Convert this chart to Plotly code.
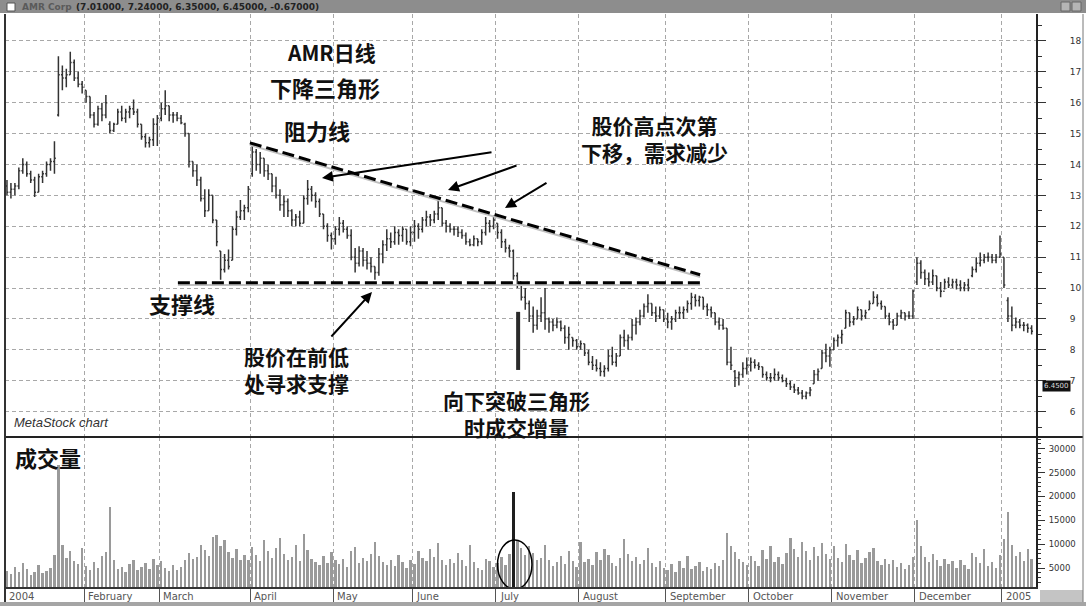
import plotly.graph_objects as go

# ---------------- data ----------------
month_names = ["2004", "February", "March", "April", "May", "June", "July",
               "August", "September", "October", "November", "December", "2005"]
month_start = [0, 20, 39, 62, 83, 103, 124, 145, 167, 188, 209, 230, 252]

high = [13.5, 13.4, 13.4, 13.9, 14.2, 14.1, 13.8, 13.6, 13.7, 13.8, 14.1, 14.2, 14.75, 17.5, 17.2, 17.1, 17.65, 17.4, 17.0, 16.7,
        16.4, 16.2, 15.7, 15.9, 16.0, 16.25, 15.4, 15.35, 15.8, 15.9, 15.8, 15.9, 16.1, 15.8, 15.3, 15.0, 14.9, 15.5, 15.6,
        16.0, 16.4, 15.9, 15.7, 15.7, 15.6, 15.35, 15.0, 14.1, 14.0, 13.6, 13.2, 13.2, 13.0, 12.2, 11.2, 11.1, 11.25, 12.0, 12.5, 12.85, 12.7, 13.3,
        14.65, 14.5, 14.4, 14.2, 14.0, 13.7, 13.6, 13.2, 13.0, 12.9, 12.55, 12.4, 12.5, 13.0, 13.5, 13.3, 13.1, 12.9, 12.4, 12.1, 11.8,
        12.0, 12.3, 12.2, 12.0, 11.9, 11.3, 11.35, 11.3, 11.2, 11.0, 10.7, 11.3, 11.55, 11.9, 11.8, 12.0, 11.9, 12.0, 11.9, 12.0,
        12.2, 12.1, 12.3, 12.5, 12.4, 12.5, 12.95, 12.6, 12.2, 12.1, 12.0, 12.0, 11.9, 11.8, 11.6, 11.7, 11.6, 11.9, 12.3, 12.2, 12.35,
        12.1, 11.9, 11.6, 11.4, 11.25, 10.5, 10.2, 10.0, 9.6, 9.4, 9.3, 9.7, 10.0, 9.05, 9.0, 9.05, 8.95, 8.8, 8.75, 8.4, 8.35,
        8.3, 8.2, 8.0, 7.8, 7.7, 7.6, 7.5, 8.0, 8.1, 7.9, 8.5, 8.65, 8.5, 9.0, 9.05, 9.3, 9.5, 9.8, 9.5, 9.4, 9.4, 9.3,
        9.2, 9.1, 9.3, 9.4, 9.4, 9.6, 9.85, 9.8, 9.75, 9.7, 9.5, 9.4, 9.2, 9.05, 9.0, 8.7, 8.1, 7.35, 7.3, 7.6, 7.75,
        7.75, 7.7, 7.6, 7.45, 7.3, 7.25, 7.4, 7.3, 7.2, 7.1, 7.0, 6.9, 6.8, 6.7, 6.65, 6.8, 7.35, 7.4, 8.0, 8.2, 8.1,
        8.4, 8.5, 8.65, 9.3, 9.2, 9.1, 9.4, 9.3, 9.3, 9.6, 9.9, 9.8, 9.6, 9.4, 9.2, 9.0, 9.2, 9.3, 9.2, 9.25, 9.95,
        11.0, 10.9, 10.6, 10.5, 10.6, 10.4, 10.2, 10.3, 10.35, 10.3, 10.3, 10.25, 10.2, 10.3, 10.7, 11.0, 11.15, 11.1, 11.15, 11.1, 11.1, 11.7,
        11.0, 9.7, 9.4, 9.05, 9.0, 8.9, 8.85, 8.8]

low = [13.0, 12.9, 13.0, 13.2, 13.7, 13.6, 13.4, 12.95, 13.1, 13.4, 13.6, 13.8, 13.7, 15.55, 16.4, 16.5, 16.9, 16.7, 16.5, 16.3,
       16.0, 15.5, 15.2, 15.25, 15.4, 15.5, 15.0, 15.05, 15.3, 15.4, 15.35, 15.5, 15.6, 15.2, 14.8, 14.55, 14.55, 14.6, 14.6,
       15.4, 15.6, 15.4, 15.35, 15.4, 15.3, 14.9, 13.9, 13.6, 13.3, 12.8, 12.3, 12.5, 12.1, 11.35, 10.27, 10.5, 10.6, 10.9, 11.7, 12.2, 12.2, 12.45,
       13.6, 13.8, 13.7, 13.6, 13.5, 13.1, 12.9, 12.5, 12.3, 12.3, 12.0, 12.0, 12.0, 12.1, 12.7, 12.8, 12.6, 12.3, 11.9, 11.5, 11.25,
       11.4, 11.7, 11.8, 11.6, 10.9, 10.5, 10.7, 10.7, 10.6, 10.5, 10.27, 10.4, 10.8, 11.2, 11.3, 11.4, 11.4, 11.5, 11.4, 11.35,
       11.5, 11.6, 11.8, 12.0, 12.0, 12.1, 12.2, 12.0, 11.8, 11.8, 11.7, 11.65, 11.6, 11.4, 11.35, 11.35, 11.35, 11.4, 11.7, 11.8, 11.9,
       11.6, 11.3, 11.15, 11.0, 10.27, 10.0, 9.6, 9.3, 8.9, 8.55, 8.65, 8.9, 8.65, 8.55, 8.6, 8.7, 8.6, 8.2, 8.0, 8.1, 8.0,
       8.0, 7.8, 7.5, 7.35, 7.3, 7.15, 7.13, 7.3, 7.5, 7.45, 7.8, 8.1, 8.0, 8.3, 8.5, 8.8, 9.05, 9.2, 9.1, 8.9, 9.0, 8.9,
       8.7, 8.65, 8.9, 9.0, 9.0, 9.2, 9.3, 9.4, 9.4, 9.3, 9.1, 9.05, 8.8, 8.65, 8.65, 7.5, 7.35, 6.8, 6.85, 7.1, 7.2,
       7.3, 7.4, 7.35, 7.1, 7.0, 6.95, 7.0, 7.0, 6.95, 6.8, 6.7, 6.6, 6.55, 6.4, 6.4, 6.5, 6.9, 7.0, 7.4, 7.6, 7.45,
       8.0, 8.1, 8.2, 8.7, 8.75, 8.8, 9.0, 8.95, 9.0, 9.3, 9.5, 9.4, 9.3, 9.0, 8.8, 8.65, 8.8, 9.0, 8.95, 9.0, 9.0,
       10.1, 10.3, 10.1, 10.05, 10.1, 9.9, 9.7, 9.95, 10.0, 10.0, 9.95, 9.9, 9.9, 9.9, 10.35, 10.5, 10.7, 10.8, 10.85, 10.8, 10.8, 11.0,
       10.0, 8.9, 8.6, 8.7, 8.7, 8.6, 8.55, 8.5]

open_ = [13.3, 13.1, 13.2, 13.3, 13.8, 14.0, 13.7, 13.5, 13.1, 13.6, 13.7, 14.0, 14.1, 15.6, 16.9, 16.8, 16.9, 17.3, 16.8, 16.6,
         16.4, 16.2, 15.6, 15.3, 15.8, 15.6, 15.3, 15.1, 15.3, 15.7, 15.5, 15.7, 15.8, 15.7, 15.3, 14.9, 14.7, 14.8, 15.3,
         15.5, 15.8, 15.9, 15.6, 15.6, 15.5, 15.3, 15.0, 14.1, 13.8, 13.5, 12.9, 12.5, 13.0, 12.2, 11.2, 10.6, 10.9, 10.9, 11.9, 12.3, 12.5, 12.6,
         13.7, 14.4, 14.0, 14.2, 13.8, 13.7, 13.3, 13.0, 12.7, 12.8, 12.5, 12.2, 12.3, 12.1, 12.9, 13.2, 13.0, 12.8, 12.4, 12.0, 11.7,
         11.6, 11.9, 12.1, 11.9, 11.7, 11.0, 10.8, 11.2, 10.9, 10.8, 10.7, 10.5, 11.1, 11.4, 11.6, 11.5, 11.8, 11.7, 11.9, 11.5,
         11.8, 12.0, 11.9, 12.2, 12.3, 12.2, 12.4, 12.6, 12.1, 12.0, 11.9, 11.9, 11.8, 11.7, 11.5, 11.4, 11.6, 11.5, 11.8, 12.1, 12.0,
         12.1, 11.8, 11.5, 11.3, 11.2, 10.4, 10.2, 9.7, 9.5, 9.1, 8.8, 9.1, 9.2, 9.0, 8.9, 8.8, 8.9, 8.7, 8.4, 8.4, 8.3,
         8.1, 8.2, 7.9, 7.6, 7.5, 7.4, 7.3, 7.4, 7.8, 7.6, 7.8, 8.4, 8.3, 8.4, 8.8, 8.9, 9.1, 9.4, 9.5, 9.2, 9.1, 9.3,
         9.0, 8.9, 9.0, 9.2, 9.2, 9.3, 9.5, 9.7, 9.6, 9.7, 9.4, 9.3, 9.2, 8.9, 8.8, 8.7, 7.6, 7.3, 7.1, 7.2, 7.4,
         7.5, 7.6, 7.5, 7.45, 7.2, 7.1, 7.1, 7.2, 7.1, 7.0, 6.9, 6.8, 6.7, 6.6, 6.5, 6.6, 6.9, 7.2, 7.4, 7.9, 7.8,
         8.0, 8.3, 8.4, 8.7, 9.2, 8.9, 9.0, 9.3, 9.1, 9.3, 9.5, 9.7, 9.5, 9.4, 9.1, 8.9, 8.8, 9.1, 9.2, 9.1, 9.1,
         10.2, 10.8, 10.5, 10.3, 10.2, 10.4, 10.0, 9.9, 10.2, 10.1, 10.2, 10.1, 10.0, 10.1, 10.4, 10.6, 10.8, 10.9, 11.0, 11.0, 10.9, 11.0,
         11.0, 9.6, 9.1, 8.8, 8.9, 8.8, 8.8, 8.7]

close = [13.1, 13.2, 13.3, 13.8, 14.0, 13.7, 13.5, 13.1, 13.6, 13.7, 14.0, 14.1, 14.2, 16.9, 16.8, 16.9, 17.3, 16.8, 16.6, 16.5,
         16.2, 15.6, 15.3, 15.8, 15.6, 16.0, 15.1, 15.3, 15.7, 15.5, 15.7, 15.8, 15.7, 15.3, 14.9, 14.7, 14.8, 15.3, 15.5,
         15.8, 15.9, 15.6, 15.6, 15.5, 15.35, 15.0, 14.1, 13.8, 13.5, 12.9, 12.5, 13.0, 12.2, 11.5, 10.6, 10.9, 10.7, 11.9, 12.3, 12.5, 12.6, 13.2,
         14.4, 14.0, 14.2, 13.8, 13.7, 13.3, 13.0, 12.7, 12.8, 12.5, 12.2, 12.3, 12.1, 12.9, 13.2, 13.0, 12.8, 12.4, 12.0, 11.7, 11.6,
         11.9, 12.1, 11.9, 11.7, 11.0, 10.8, 11.2, 10.9, 10.8, 10.7, 10.5, 11.1, 11.4, 11.6, 11.5, 11.8, 11.7, 11.9, 11.5, 11.8,
         12.0, 11.9, 12.2, 12.3, 12.2, 12.4, 12.6, 12.1, 12.0, 11.9, 11.9, 11.8, 11.7, 11.5, 11.4, 11.6, 11.5, 11.8, 12.1, 12.0, 12.2,
         11.8, 11.5, 11.3, 11.2, 10.4, 10.2, 9.7, 9.5, 9.1, 8.8, 9.1, 9.2, 9.0, 8.9, 8.8, 8.9, 8.7, 8.4, 8.5, 8.3, 8.1,
         8.2, 7.9, 7.6, 7.5, 7.4, 7.3, 7.4, 7.8, 7.6, 7.8, 8.4, 8.3, 8.4, 8.8, 8.9, 9.1, 9.4, 9.5, 9.2, 9.1, 9.3, 9.0,
         8.9, 9.0, 9.2, 9.2, 9.3, 9.5, 9.7, 9.6, 9.7, 9.4, 9.3, 9.2, 8.9, 8.8, 8.7, 7.6, 7.5, 7.1, 7.2, 7.4, 7.5,
         7.6, 7.5, 7.45, 7.2, 7.1, 7.1, 7.2, 7.1, 7.0, 6.9, 6.8, 6.7, 6.6, 6.5, 6.6, 6.7, 7.2, 7.3, 7.9, 7.8, 8.0,
         8.3, 8.4, 8.5, 9.2, 8.9, 9.0, 9.3, 9.1, 9.2, 9.5, 9.7, 9.5, 9.4, 9.1, 8.9, 8.8, 9.1, 9.2, 9.1, 9.1, 9.9,
         10.8, 10.5, 10.3, 10.2, 10.4, 10.0, 9.9, 10.2, 10.1, 10.2, 10.1, 10.0, 10.1, 10.0, 10.6, 10.8, 10.9, 11.0, 11.0, 10.9, 11.0, 11.1,
         10.1, 9.1, 8.8, 8.9, 8.8, 8.8, 8.7, 8.6]

volume = [4500, 3800, 5200, 4200, 6000, 4800, 3600, 4100, 5600, 3900, 4400, 5000, 7800, 26500, 9800, 7200, 8600, 6400, 5800, 9200,
          5400, 4600, 6200, 5000, 7600, 8400, 17800, 6800, 4900, 5300, 4200, 5800, 6600, 4700, 5200, 6100, 4800, 7000, 5600,
          6400, 5000, 4300, 5600, 4600, 5200, 6800, 8200, 6900, 7400, 9800, 8800, 7600, 11500, 12000, 9600, 10800, 8400, 7200, 9000, 6800, 7700, 6600,
          9400, 7800, 6400, 10800, 8600, 7200, 9200, 11200, 8000, 6600, 7400, 9800, 6400, 12200, 8800, 7000, 6200, 5600, 7600, 6000, 8400,
          6800, 5800, 7000, 5200, 8600, 9400, 6000, 7200, 6400, 8000, 10400, 7600, 6200, 5600, 6800, 5400, 7800, 6200, 5000, 6600,
          5800, 8600, 7200, 6400, 9000, 7400, 10200, 6800, 5600, 7000, 6000, 8200, 6600, 5400, 9800, 6200, 5000, 4600, 7000, 6400, 5200,
          6000, 7400, 5600, 8000, 21000, 10800, 9200, 7800, 9600, 8200, 6600, 7200, 9800, 6800, 5400, 6200, 7600, 5800, 8600, 6400, 5200,
          10400, 6200, 7000, 5600, 8400, 6600, 9000, 7800, 6000, 5400, 7200, 11000, 8000, 6400, 7400, 5800, 6800, 9200, 6000, 5200, 6400, 5000,
          4600, 5800, 4200, 6400, 5000, 7600, 4800, 5400, 6200, 4400, 5200, 4800, 6000, 5400, 6800, 12400, 9600, 8400, 7000, 6200, 5600,
          7600, 6400, 5400, 8800, 7000, 9600, 6200, 7400, 5800, 8200, 11200, 9000, 7400, 10400, 8600, 6800, 9400, 7600, 10200, 8000, 7000,
          9600, 7200, 6200, 10000, 7800, 6600, 8800, 6000, 7200, 8400, 9200, 6400, 5600, 7000, 5800, 6600, 5200, 6000, 4800, 5600, 7400,
          15000, 9600, 7400, 6200, 8000, 6600, 5400, 7000, 5800, 6400, 5000, 6800, 5600, 4800, 8200, 7400, 6000, 9000, 5400, 6200, 5000, 7800,
          11000, 16800, 9800, 7600, 8400, 6400, 9000, 7000]

price_ticks = [6, 7, 8, 9, 10, 11, 12, 13, 14, 15, 16, 17, 18]
volume_ticks = [5000, 10000, 15000, 20000, 25000, 30000]

# annotation guide lines (day index, price)
resistance = [(61.4, 14.7), (175.2, 10.43)]
support = [(43.2, 10.17), (175.2, 10.17)]
breakout_day = 128

# ---------------- layout geometry ----------------
W, H = 1086, 606
ML, MR, MT, MB = 5, 50, 14, 19
PW = W - ML - MR
PH = H - MT - MB
split = 150 / PH


def px(x):
    return (x - ML) / PW


def py(y):
    return (H - MB - y) / PH


n = len(close)
idx = list(range(n))
bounds = [s - 0.5 for s in month_start]
grid_col = "#a8a8a8"
bar_col = "#333333"

fig = go.Figure()
fig.add_trace(go.Ohlc(
    x=idx, open=open_, high=high, low=low, close=close,
    increasing=dict(line=dict(color=bar_col, width=1.5)),
    decreasing=dict(line=dict(color=bar_col, width=1.5)),
    tickwidth=0.35, xaxis="x", yaxis="y", hoverinfo="skip", showlegend=False))

vol_colors = ["#1e1e1e" if i == breakout_day else "#9a9a9a" for i in idx]
fig.add_trace(go.Bar(
    x=idx, y=volume, marker=dict(color=vol_colors, line=dict(width=0)),
    width=0.6, xaxis="x2", yaxis="y2", hoverinfo="skip", showlegend=False))

xr = [-0.5, 260.1]
fig.update_layout(
    width=W, height=H,
    margin=dict(l=ML, r=MR, t=MT, b=MB),
    paper_bgcolor="white", plot_bgcolor="white",
    bargap=0,
    xaxis=dict(domain=[0, 1], anchor="y", range=xr, tickvals=bounds,
               showticklabels=False, ticks="", showgrid=True,
               gridcolor=grid_col, griddash="4px,3px", gridwidth=1,
               zeroline=False, showline=False,
               rangeslider=dict(visible=False)),
    xaxis2=dict(domain=[0, 1], anchor="y2", range=xr, matches="x",
                tickvals=bounds, showticklabels=False, ticks="outside",
                ticklen=15, tickcolor="#555", tickwidth=1,
                showgrid=True, gridcolor=grid_col, griddash="4px,3px",
                zeroline=False, showline=True, linecolor="#333", linewidth=1.5),
    yaxis=dict(domain=[split, 1], anchor="x", side="right",
               range=[5.18, 18.87], tickvals=price_ticks,
               ticks="outside", ticklen=8, tickcolor="#333",
               ticklabelposition="outside", ticklabelstandoff=22,
               minor=dict(dtick=0.5, ticks="outside", ticklen=4, tickcolor="#333"),
               showgrid=True, gridcolor=grid_col, griddash="4px,3px",
               zeroline=False, showline=True, linecolor="#222", linewidth=2,
               tickfont=dict(family="DejaVu Sans", size=9, color="#333")),
    yaxis2=dict(domain=[0, split], anchor="x2", side="right",
                range=[1050, 32430], tickvals=volume_ticks, tickformat="d",
                ticks="outside", ticklen=7, tickcolor="#333",
                minor=dict(dtick=1000, ticks="outside", ticklen=3, tickcolor="#333"),
                showgrid=False, zeroline=False, showline=True,
                linecolor="#222", linewidth=2, ticklabelstandoff=2,
                tickfont=dict(family="DejaVu Sans", size=8.5, color="#333")),
)

shapes = []
# header bar
shapes.append(dict(type="rect", xref="paper", yref="paper", x0=px(0), x1=px(W),
                   y0=py(13), y1=py(0), fillcolor="#8d8d8d", line=dict(width=0), layer="below"))
shapes.append(dict(type="rect", xref="paper", yref="paper", x0=px(7), x1=px(15),
                   y0=py(11), y1=py(3), fillcolor="white", line=dict(width=1, color="#555")))
for x0 in (1061, 1072):
    shapes.append(dict(type="rect", xref="paper", yref="paper", x0=px(x0), x1=px(x0 + 9),
                       y0=py(11), y1=py(2), fillcolor="#b5b5b5", line=dict(width=1, color="#666")))
# bottom strips
shapes.append(dict(type="rect", xref="paper", yref="paper", x0=px(1040), x1=px(1083),
                   y0=py(602), y1=py(590), fillcolor="#c4c4c4", line=dict(width=0)))
shapes.append(dict(type="rect", xref="paper", yref="paper", x0=px(0), x1=px(W),
                   y0=py(606), y1=py(602), fillcolor="#a5a5a5", line=dict(width=0)))
# panel separator and frame lines
shapes.append(dict(type="line", xref="paper", yref="paper", x0=px(5), x1=px(1083),
                   y0=split, y1=split, line=dict(color="#222", width=2)))
shapes.append(dict(type="line", xref="paper", yref="paper", x0=0, x1=0,
                   y0=py(602), y1=1, line=dict(color="#333", width=2)))
shapes.append(dict(type="line", xref="paper", yref="paper", x0=px(1083), x1=px(1083),
                   y0=py(602), y1=1, line=dict(color="#777", width=1)))
# trend lines (light shadow + dashed black)
for (a, b) in (resistance, support):
    shapes.append(dict(type="line", xref="x", yref="y", x0=a[0], y0=a[1] - 0.07,
                       x1=b[0], y1=b[1] - 0.07, line=dict(color="#c0c0c0", width=2)))
    shapes.append(dict(type="line", xref="x", yref="y", x0=a[0], y0=a[1],
                       x1=b[0], y1=b[1], line=dict(color="black", width=3, dash="12px,5px")))
# breakout marker bar in the price panel
shapes.append(dict(type="line", xref="x", yref="y", x0=129.2, x1=129.2, y0=7.35, y1=9.23,
                   line=dict(color="#2a2a2a", width=4)))
# ellipse around breakout volume
shapes.append(dict(type="circle", xref="x2", yref="y2", x0=124.0, x1=132.7, y0=600, y1=10900,
                   line=dict(color="black", width=1.5)))
fig.update_layout(shapes=shapes)

ann = []


def label(text, xc, yc, size=21, weight="bold", anchor="center", color="#111",
          family="Noto Sans CJK SC, sans-serif", style="normal"):
    ann.append(dict(text=text, xref="paper", yref="paper", x=px(xc), y=py(yc),
                    xanchor=anchor, yanchor="middle", showarrow=False,
                    font=dict(family=family, size=size, color=color, weight=weight, style=style)))


label("AMR日线", 331, 52, size=21)
label("下降三角形", 325, 87, size=22)
label("阻力线", 317, 130, size=22)
label("股价高点次第<br>下移，需求减少", 654, 138)
label("支撑线", 182, 303, size=22)
label("股价在前低<br>处寻求支撑", 296, 369)
label("向下突破三角形<br>时成交增量", 516, 413)
label("成交量", 13, 457, size=22, anchor="left")
label("MetaStock chart", 12, 422, size=13, weight="normal", anchor="left", color="#333",
      family="Liberation Sans, Arial, sans-serif", style="italic")
label("AMR Corp", 20, 6.5, size=9, weight="bold", anchor="left", color="#5a5a5a",
      family="DejaVu Sans, sans-serif")
label("(7.01000, 7.24000, 6.35000, 6.45000, -0.67000)", 74, 6.5, size=9, weight="bold",
      anchor="left", color="#222", family="DejaVu Sans, sans-serif")

# arrows: (head_x, head_y, tail_x, tail_y) in pixels
for hx, hy, tx, ty in [(322, 178, 493, 152), (448, 190, 518, 165),
                       (505, 208, 548, 182), (372, 292, 330, 338)]:
    ann.append(dict(text="", xref="paper", yref="paper", x=px(hx), y=py(hy),
                    ax=tx - hx, ay=ty - hy, axref="pixel", ayref="pixel",
                    showarrow=True, arrowhead=2, arrowsize=1.1, arrowwidth=2,
                    arrowcolor="black"))

# month labels under the volume panel
for name, b in zip(month_names, bounds):
    ann.append(dict(text=name, xref="x2", yref="paper", x=b, y=py(596),
                    xanchor="left", yanchor="middle", xshift=2, showarrow=False,
                    font=dict(family="DejaVu Sans, sans-serif", size=10, color="#555")))

# last value box on the price axis
ann.append(dict(text="6.4500", xref="paper", yref="y", x=px(1056), y=6.83,
                xanchor="center", yanchor="middle", showarrow=False,
                bgcolor="#111", borderpad=1,
                font=dict(family="DejaVu Sans", size=7, color="#ddd")))

fig.update_layout(annotations=ann)
fig.write_html("out.html", config={"displayModeBar": False},
               post_script="document.body.style.margin='0';document.body.style.overflow='hidden';")
